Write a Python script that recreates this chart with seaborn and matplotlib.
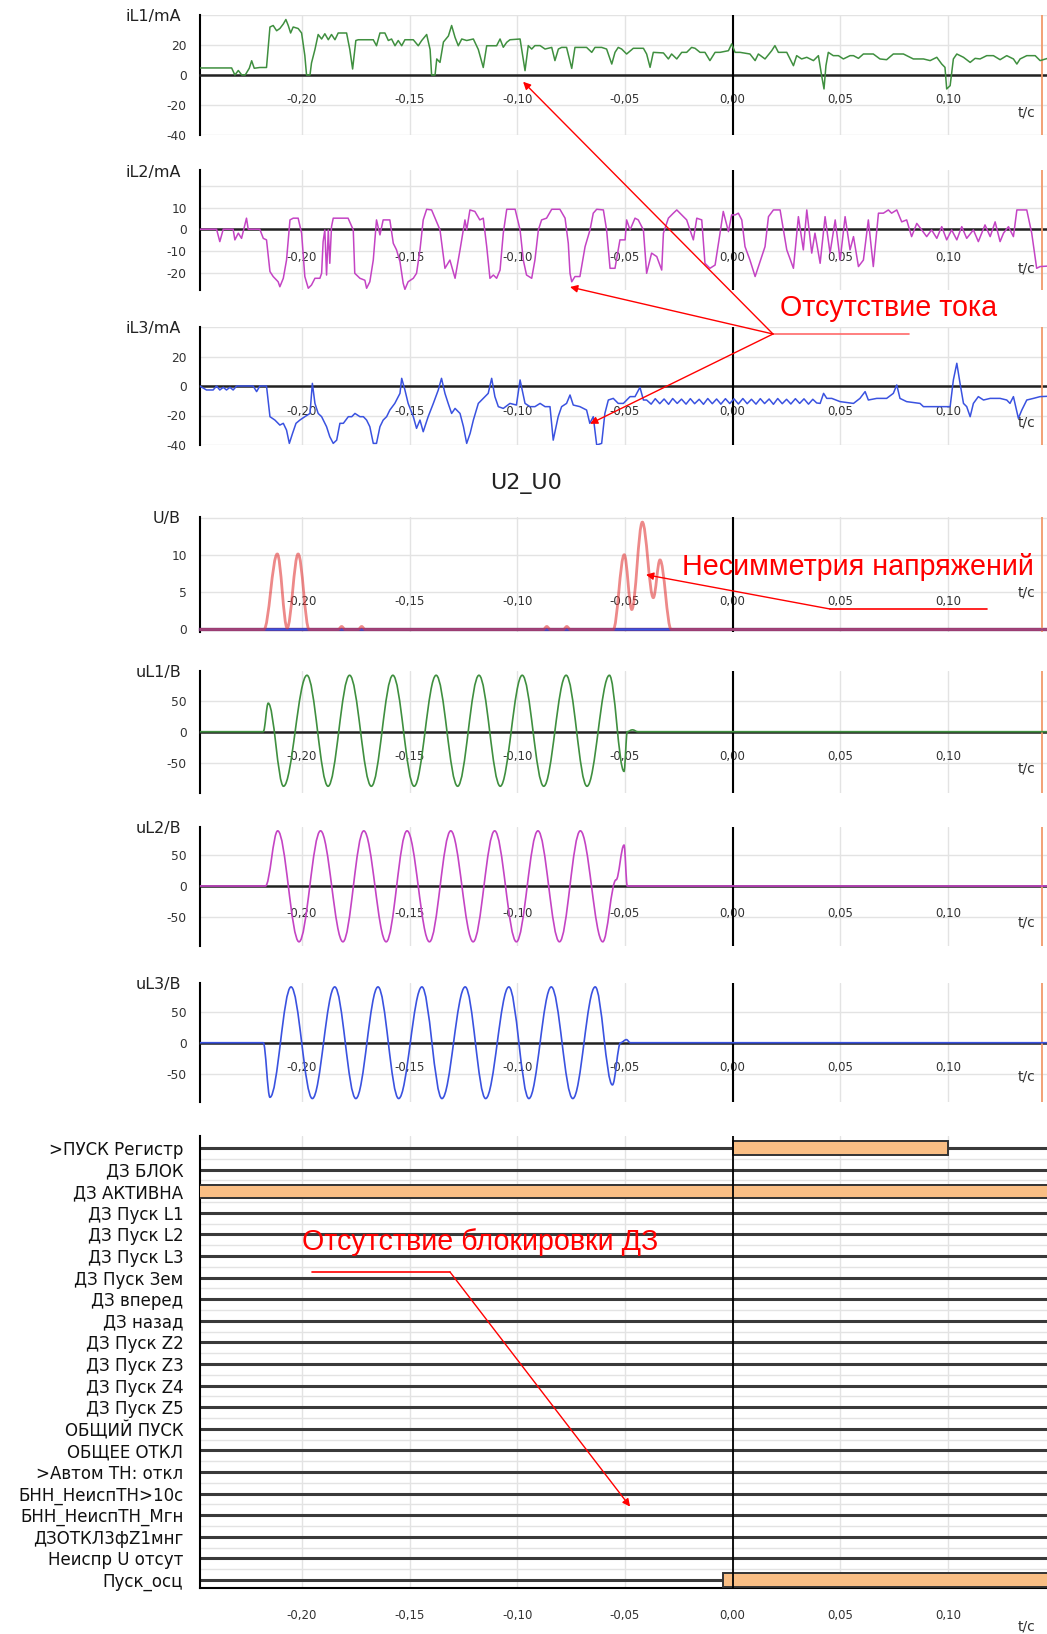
import numpy as np
import matplotlib
matplotlib.use("Agg")
import matplotlib.pyplot as plt
import seaborn as sns
from matplotlib.path import Path
from matplotlib.patches import PathPatch, ConnectionPatch
from matplotlib.lines import Line2D
from matplotlib.transforms import blended_transform_factory

# ---------------------------------------------------------------- data
# Time values are in milliseconds, amplitudes in the units of each channel.
IL1 = [
    (-247.5, 4.7), (-232.7, 4.7), (-231.2, 0.0), (-229.6, 3.0), (-228.0, 0.0), (-226.4, 0.0),
    (-224.5, 4.5), (-223.4, 9.5), (-222.2, 4.5), (-219.6, 5.0), (-216.5, 5.0),
    (-214.9, 32.0), (-213.4, 33.0), (-211.8, 29.5), (-210.3, 31.0), (-208.7, 34.0), (-207.5, 37.0),
    (-206.4, 33.0), (-205.3, 28.0), (-204.1, 32.0), (-201.8, 31.0), (-200.2, 28.0), (-198.7, 13.0),
    (-197.9, 0.0), (-196.3, 0.0), (-195.6, 8.0), (-194.0, 17.0), (-192.5, 27.0), (-190.9, 24.0),
    (-189.4, 27.5), (-187.8, 23.5), (-186.3, 27.0), (-184.7, 23.5), (-183.2, 28.0), (-179.3, 28.0),
    (-177.8, 17.0), (-176.5, 4.0), (-175.0, 23.0), (-173.9, 23.5), (-166.9, 23.5), (-165.4, 19.5),
    (-163.8, 28.0), (-161.5, 28.0), (-159.9, 23.0), (-158.4, 24.0), (-156.8, 19.5), (-155.3, 23.0),
    (-153.7, 19.5), (-152.2, 23.5), (-148.3, 23.5), (-146.0, 19.5), (-144.4, 23.0), (-142.1, 27.0),
    (-140.5, 17.0), (-139.8, 0.0), (-138.2, 0.0), (-137.4, 10.7), (-135.9, 8.4), (-134.3, 22.0),
    (-132.0, 26.0), (-130.5, 33.0), (-128.9, 25.0), (-127.4, 19.5), (-125.8, 24.0), (-123.5, 23.0),
    (-120.4, 24.0), (-118.1, 17.0), (-115.8, 5.0), (-114.2, 19.5), (-112.7, 19.5), (-109.6, 19.5),
    (-108.0, 24.0), (-106.5, 18.5), (-104.9, 21.8), (-103.4, 23.5), (-98.7, 24.0),
    (-96.4, 2.9), (-94.9, 19.6), (-93.3, 17.3), (-91.8, 19.6), (-89.4, 19.6), (-87.1, 17.3),
    (-84.0, 18.4), (-82.5, 9.6), (-80.9, 17.3), (-79.4, 18.4), (-77.1, 18.4), (-74.7, 4.4),
    (-73.2, 18.4), (-70.9, 18.4), (-67.8, 18.4), (-65.4, 15.1), (-63.9, 18.4), (-60.8, 18.4),
    (-58.5, 17.3), (-56.1, 7.3), (-54.6, 15.1), (-53.1, 18.4), (-51.5, 17.3), (-49.2, 14.0),
    (-46.1, 17.8), (-41.4, 17.8), (-39.9, 14.0), (-38.3, 5.1), (-36.8, 15.1), (-32.1, 14.7),
    (-29.8, 10.7), (-28.3, 14.0), (-25.9, 10.7), (-23.6, 15.1), (-21.3, 15.1), (-19.0, 18.4),
    (-17.4, 17.8), (-15.1, 15.1), (-12.8, 15.1), (-10.5, 9.6), (-8.1, 15.1), (-5.8, 15.1),
    (-1.9, 16.2), (-0.4, 20.7), (1.2, 15.1), (3.5, 15.1), (8.1, 14.0), (10.5, 9.6), (12.0, 14.0),
    (15.1, 10.7), (18.2, 16.2), (19.7, 19.6), (21.3, 15.1), (25.2, 15.1), (28.3, 6.2), (29.8, 12.9),
    (32.1, 10.7), (34.5, 11.8), (37.6, 9.6), (39.9, 12.9), (41.4, -0.4), (42.5, -9.3), (43.4, 6.2),
    (44.5, 15.1), (46.8, 12.9), (49.2, 12.9), (51.5, 10.7), (54.6, 12.9), (56.2, 12.9), (58.5, 11.1),
    (60.8, 14.0), (65.4, 14.0), (68.5, 10.7), (71.6, 10.2), (74.7, 14.0), (79.4, 14.0), (84.0, 10.7),
    (88.7, 10.7), (91.8, 9.6), (94.9, 11.8), (97.2, 7.3), (98.7, 5.1), (99.5, -9.3), (101.1, -7.1),
    (102.6, 10.7), (104.2, 14.0), (107.3, 11.8), (110.4, 8.4), (112.7, 11.1), (115.0, 10.7),
    (118.1, 12.9), (121.2, 12.9), (124.3, 10.2), (127.4, 12.9), (130.5, 10.7), (132.1, 7.3),
    (133.6, 10.7), (136.7, 12.9), (140.6, 12.9), (142.9, 9.6), (146.2, 11.0),
]

IL2 = [
    (-247.5, 0.0), (-239.7, 0.0), (-238.2, -5.7), (-236.6, 0.0), (-232.0, 0.0), (-231.2, -4.9),
    (-229.6, -1.8), (-228.1, -4.2), (-225.8, 5.1), (-225.0, 0.0), (-219.6, 0.0), (-218.0, -4.2),
    (-216.5, -4.9), (-214.9, -19.5), (-213.4, -21.8), (-211.1, -24.2), (-210.3, -26.5), (-208.7, -22.6),
    (-207.2, -14.2), (-205.6, 4.3), (-204.1, 5.1), (-201.8, 5.1), (-200.2, -1.8), (-198.7, -21.8),
    (-197.1, -27.2), (-195.6, -25.7), (-194.0, -22.6), (-191.7, -22.6), (-190.9, -20.3), (-190.2, -5.7),
    (-189.4, -0.3), (-188.6, -21.1), (-187.8, -0.3), (-187.1, -15.7), (-186.3, 1.2), (-185.5, 5.1),
    (-178.6, 5.1), (-176.2, -0.3), (-175.5, -20.3), (-173.1, -22.6), (-170.8, -23.5), (-170.0, -27.2),
    (-168.5, -24.2), (-166.9, -14.2), (-165.4, 4.3), (-163.8, -2.6), (-162.3, 4.3), (-159.2, 4.3),
    (-157.6, -6.5), (-156.1, -9.5), (-154.5, -14.9), (-153.0, -24.9), (-152.2, -27.7), (-150.7, -24.2),
    (-148.3, -22.6), (-146.8, -20.3), (-145.2, -9.5), (-143.7, 4.3), (-142.1, 9.2), (-139.8, 8.9),
    (-138.2, 5.1), (-135.9, -0.3), (-133.6, -18.0), (-131.3, -14.2), (-128.9, -22.6), (-126.6, -9.5),
    (-124.3, 4.3), (-123.5, -0.3), (-122.0, 8.9), (-119.7, 8.2), (-117.4, 4.3), (-115.8, 5.1),
    (-114.2, -8.0), (-112.7, -22.6), (-111.1, -21.1), (-109.6, -22.6), (-108.0, -18.8), (-106.5, -1.8),
    (-104.9, 9.2), (-101.0, 9.2), (-98.7, -0.3), (-97.2, -14.2), (-95.7, -21.1), (-93.3, -22.6),
    (-91.8, -14.2), (-90.2, -0.3), (-88.7, 4.3), (-86.4, 5.1), (-84.0, 9.2), (-80.2, 9.2),
    (-77.8, 5.1), (-76.3, -6.5), (-75.5, -20.3), (-74.7, -24.2), (-73.2, -21.8), (-70.9, -21.8),
    (-68.5, -8.0), (-66.2, -0.3), (-64.7, 7.4), (-63.1, 9.2), (-60.0, 8.9), (-58.5, -0.3),
    (-56.9, -18.0), (-54.6, -18.0), (-52.3, -4.9), (-49.9, -4.9), (-49.2, 4.3), (-47.6, -0.3),
    (-45.3, 5.1), (-43.8, 4.3), (-41.4, -0.3), (-39.9, -20.3), (-37.6, -11.0), (-35.2, -12.6),
    (-32.9, -18.8), (-32.1, -1.8), (-29.8, 5.1), (-27.5, 7.4), (-25.9, 8.9), (-24.4, 7.4),
    (-21.3, 4.3), (-18.2, -4.9), (-16.6, 5.1), (-14.3, 4.3), (-12.8, -15.7), (-10.5, -18.0),
    (-8.1, -16.5), (-5.8, -1.8), (-4.3, 8.2), (-1.9, -1.1), (-0.4, 6.6), (1.2, 6.6), (2.7, 7.4),
    (4.3, 4.3), (5.8, -8.0), (8.1, -14.2), (10.5, -21.8), (12.8, -14.9), (15.1, -8.0), (16.7, 5.8),
    (19.0, 8.9), (22.1, 8.9), (25.2, -9.5), (28.3, -18.0), (30.6, 5.8), (32.9, -9.5), (34.5, 8.9),
    (36.8, -11.0), (38.3, -1.8), (40.7, -15.7), (43.0, 5.8), (45.3, -11.0), (47.7, 4.3),
    (50.0, -14.2), (52.3, 5.8), (54.6, -9.5), (56.2, -3.4), (58.5, -17.2), (60.8, -14.2),
    (63.1, 4.3), (65.4, -17.2), (67.8, 7.4), (70.1, 7.4), (72.4, 8.9), (73.9, 7.4), (76.3, 8.9),
    (78.6, 3.4), (80.9, 4.3), (83.2, -3.4), (85.6, 2.7), (87.9, -0.3), (90.2, -3.4), (92.5, -0.3),
    (94.9, -4.2), (97.2, 1.2), (99.5, -4.9), (101.8, -0.3), (104.2, -4.9), (106.5, 1.2),
    (108.8, -4.2), (111.9, -0.3), (114.2, -5.7), (117.3, 2.0), (119.7, -3.4), (122.0, 3.4),
    (124.3, -5.7), (125.9, -1.8), (128.2, 1.2), (130.5, -3.4), (132.1, 8.9), (136.7, 8.9),
    (139.0, -1.8), (141.3, -18.0), (142.9, -17.2), (146.2, -17.0),
]

IL3 = [
    (-247.5, 0.0), (-244.4, -2.7), (-241.3, -2.7), (-239.7, 0.0), (-238.2, -2.7), (-236.6, -0.9),
    (-235.1, -2.7), (-233.5, -0.9), (-232.0, -2.7), (-230.4, 0.0), (-222.7, 0.0), (-221.1, -3.8),
    (-219.6, 0.0), (-216.5, 0.0), (-214.9, -20.8), (-212.6, -23.1), (-210.3, -26.5), (-208.7, -25.3),
    (-207.2, -29.9), (-205.9, -38.9), (-204.4, -32.1), (-202.8, -25.3), (-201.0, -23.1),
    (-198.7, -20.8), (-196.3, -18.6), (-195.2, 1.8), (-194.0, -11.8), (-192.5, -18.6),
    (-190.9, -20.8), (-188.6, -27.6), (-187.1, -34.4), (-185.5, -38.9), (-183.9, -36.7),
    (-182.4, -25.3), (-180.8, -25.3), (-178.5, -20.8), (-176.9, -20.8), (-175.4, -18.6),
    (-173.1, -20.8), (-171.5, -20.8), (-170.0, -23.1), (-168.5, -27.6), (-166.9, -38.9),
    (-165.4, -38.9), (-163.8, -27.6), (-162.3, -23.1), (-160.7, -20.8), (-159.2, -16.3),
    (-156.9, -11.8), (-154.5, -5.0), (-153.7, 5.2), (-152.2, -2.7), (-150.7, -11.8), (-148.3, -20.8),
    (-146.8, -28.7), (-145.2, -23.1), (-143.7, -31.0), (-141.4, -20.8), (-139.0, -11.8),
    (-136.7, -2.7), (-135.2, 5.2), (-133.6, -5.0), (-132.1, -11.8), (-130.5, -18.6), (-128.9, -15.2),
    (-126.6, -18.6), (-125.0, -27.6), (-123.5, -38.9), (-121.9, -32.1), (-120.4, -23.1),
    (-118.1, -11.8), (-115.8, -8.4), (-113.5, -5.0), (-111.9, 5.2), (-110.4, -7.2), (-108.8, -14.0),
    (-106.5, -15.2), (-103.4, -11.8), (-100.4, -12.9), (-98.7, 4.1), (-96.4, -11.8), (-94.1, -14.0),
    (-91.8, -14.0), (-89.4, -11.8), (-87.1, -14.0), (-84.8, -14.0), (-83.3, -36.7), (-81.0, -20.8),
    (-79.4, -14.0), (-77.1, -11.8), (-75.5, -6.1), (-74.0, -12.9), (-70.9, -14.0), (-67.8, -16.3),
    (-66.3, -25.3), (-64.7, -20.8), (-63.1, -40.0), (-60.8, -38.9), (-59.3, -18.6), (-57.7, -9.5),
    (-55.4, -8.4), (-53.1, -11.8), (-50.7, -11.8), (-47.6, -7.2), (-45.3, -7.2), (-43.0, -0.9),
    (-41.4, -9.5), (-39.9, -9.5), (-37.8, -12.3), (-35.9, -8.6), (-33.8, -12.0), (-31.8, -8.8),
    (-29.7, -12.4), (-27.8, -8.5), (-25.7, -11.8), (-23.7, -8.9), (-21.6, -12.3), (-19.6, -8.6),
    (-17.6, -12.0), (-15.5, -9.0), (-13.5, -12.4), (-11.5, -8.5), (-9.4, -12.0), (-7.4, -8.8),
    (-5.4, -12.3), (-3.3, -8.6), (-1.3, -11.9), (0.7, -8.7), (2.7, -12.2), (4.8, -8.5), (6.8, -12.0),
    (8.8, -9.0), (10.9, -12.3), (12.9, -8.6), (14.9, -11.9), (17.0, -8.8), (19.0, -12.4),
    (21.0, -8.5), (23.1, -12.0), (25.1, -9.0), (27.1, -12.2), (29.2, -8.6), (31.2, -11.8),
    (33.2, -8.7), (35.3, -12.3), (37.3, -9.0), (39.1, -11.5), (40.7, -11.8), (42.3, -5.0),
    (43.8, -8.4), (46.1, -8.4), (50.0, -10.6), (56.2, -11.8), (59.2, -8.4), (61.6, -3.8),
    (63.1, -9.5), (67.0, -8.4), (71.6, -8.4), (74.7, -5.0), (76.3, 0.7), (77.8, -8.4),
    (80.9, -10.6), (87.1, -11.8), (88.7, -14.0), (101.1, -14.0), (102.6, 4.1), (104.2, 15.4),
    (105.7, 1.8), (107.3, -11.8), (108.8, -14.0), (110.4, -20.8), (111.9, -11.8), (114.2, -7.2),
    (116.6, -9.5), (119.7, -8.4), (124.3, -8.4), (127.4, -9.5), (128.9, -11.8), (130.5, -7.2),
    (132.8, -21.9), (134.4, -16.3), (136.7, -9.5), (139.8, -8.4), (142.9, -7.2), (146.2, -7.0),
]

# Negative-sequence voltage (U2) and zero-sequence voltage (U0): extrema of each half-wave
U2 = [
    (-247.5, 0.0), (-217.7, 0.0), (-211.5, 10.2), (-206.9, 0.2), (-201.8, 10.2), (-196.7, 0.0),
    (-183.2, 0.0), (-181.6, 0.4), (-180.0, 0.0), (-173.9, 0.0), (-172.3, 0.4), (-170.7, 0.0),
    (-87.9, 0.0), (-86.3, 0.4), (-84.7, 0.0), (-78.6, 0.0), (-77.0, 0.4), (-75.4, 0.0),
    (-55.4, 0.0), (-50.3, 10.1), (-46.8, 2.7), (-41.9, 14.5), (-36.8, 4.3), (-33.7, 9.4),
    (-28.5, 0.0), (146.2, 0.0),
]
U0 = [(-247.5, 0.0), (146.2, 0.0)]

# Phase voltages: successive peaks / troughs of the 50 Hz waveform
UL1 = [
    (-247.5, 0), (-218.0, 0), (-215.7, 46), (-208.6, -88), (-197.7, 91), (-187.9, -88),
    (-177.9, 91), (-167.8, -88), (-157.8, 91), (-147.9, -88), (-137.7, 91), (-127.7, -88),
    (-117.8, 91), (-107.9, -88), (-97.7, 91), (-87.7, -88), (-77.3, 91), (-67.6, -88),
    (-57.2, 91), (-50.4, -64), (-48.9, 0), (-46.5, 3), (-44.0, 0), (146.2, 0),
]
UL2 = [
    (-247.5, 0), (-217.0, 0), (-211.3, 89), (-201.4, -90), (-191.4, 89), (-181.0, -90),
    (-171.3, 89), (-160.9, -90), (-151.2, 89), (-140.8, -90), (-130.9, 89), (-120.5, -90),
    (-110.5, 89), (-100.4, -90), (-90.4, 89), (-80.4, -90), (-70.7, 89), (-60.3, -90),
    (-54.1, 10), (-50.4, 66), (-48.9, 0), (146.2, 0),
]
UL3 = [
    (-247.5, 0), (-218.0, 0), (-214.9, -88), (-205.1, 90), (-195.2, -90), (-184.8, 90),
    (-175.0, -90), (-164.7, 90), (-155.1, -90), (-144.3, 90), (-135.0, -90), (-124.2, 90),
    (-114.7, -90), (-103.9, 90), (-94.6, -90), (-84.2, 90), (-74.2, -90), (-63.8, 90),
    (-55.8, -68), (-52.0, 0), (-49.3, 5), (-47.5, 0), (146.2, 0),
]

# Discrete signals and their active intervals (seconds)
DIG_LABELS = [
    ">ПУСК Регистр", "ДЗ БЛОК", "ДЗ АКТИВНА", "ДЗ Пуск L1", "ДЗ Пуск L2", "ДЗ Пуск L3",
    "ДЗ Пуск Зем", "ДЗ вперед", "ДЗ назад", "ДЗ Пуск Z2", "ДЗ Пуск Z3", "ДЗ Пуск Z4",
    "ДЗ Пуск Z5", "ОБЩИЙ ПУСК", "ОБЩЕЕ ОТКЛ", ">Автом ТН: откл", "БНН_НеиспТН>10с",
    "БНН_НеиспТН_Мгн", "ДЗОТКЛ3фZ1мнг", "Неиспр U отсут", "Пуск_осц",
]
DIG_ON = [(">ПУСК Регистр", 0.000, 0.100), ("ДЗ АКТИВНА", -0.260, 0.160), ("Пуск_осц", -0.0043, 0.160)]

XTICKS = [-0.20, -0.15, -0.10, -0.05, 0.00, 0.05, 0.10]
CURSOR_T = 0.1438

# ---------------------------------------------------------------- style
sns.set_theme(style="white")
plt.rcParams["font.family"] = ["DejaVu Sans"]
ANN_FONT = ["Liberation Sans", "DejaVu Sans"]
ANN_SIZE = 20.6

GREEN, MAGENTA, BLUE, RED = "#3f8f3f", "#c444c4", "#3a52e0", "#e23a3a"
ORANGE_FILL, CURSOR = "#f9be84", "#f29a6a"
GRID = "#e3e3e3"
T_MIN, T_MAX = -0.2474, 0.1461

W, H = 1047, 1634
fig = plt.figure(figsize=(W / 100, H / 100), dpi=100, facecolor="white")


def fx(x):
    return x / W


def fy(y):
    return 1 - y / H


def add_panel(top, bottom):
    ax = fig.add_axes([fx(200), fy(bottom), fx(W - 200), (bottom - top) / H])
    ax.set_facecolor("none")
    ax.set_xlim(T_MIN, T_MAX)
    return ax


def tick_text(t):
    return f"{t:.2f}".replace(".", ",")


def style_analog(ax, ylim, yticks, ylabels, unit, label_y, tc_y):
    ax.set_ylim(*ylim)
    for s in ("top", "right"):
        ax.spines[s].set_visible(False)
    ax.spines["left"].set_color("black")
    ax.spines["left"].set_linewidth(1.5)
    ax.spines["bottom"].set_position(("data", 0))
    ax.spines["bottom"].set_color("#222222")
    ax.spines["bottom"].set_linewidth(1.8)
    ax.set_xticks(XTICKS)
    ax.set_yticks(yticks)
    ax.set_yticklabels(ylabels)
    ax.tick_params(axis="x", direction="inout", length=13, width=1.5, color="#222222",
                   labelbottom=False)
    ax.tick_params(axis="y", direction="out", length=6.5, width=1.3, color="black", pad=3,
                   labelsize=8.8, labelcolor="#333333")
    ax.grid(True, color=GRID, lw=1.0)
    ax.set_axisbelow(True)
    ax.axvline(0, color="black", lw=1.5, zorder=2.8)
    ax.axvline(CURSOR_T, color=CURSOR, lw=1.3, zorder=2.8)
    tr = blended_transform_factory(ax.transData, fig.transFigure)
    for t in XTICKS:
        ax.text(t, fy(label_y), tick_text(t), transform=tr, ha="center", va="center",
                fontsize=8.5, color="#333333", zorder=1)
    fig.text(fx(1026), fy(tc_y), "t/c", ha="center", va="center", fontsize=10, color="#333333")
    pos = ax.get_position()
    fig.text(fx(181), pos.y1 - 2 / H, unit, ha="right", va="center", fontsize=11.5,
             color="#222222")


def draw_trace(ax, pts, color, lw=1.1):
    arr = np.array(pts, dtype=float)
    sns.lineplot(x=arr[:, 0] / 1000, y=arr[:, 1], ax=ax, color=color, lw=lw,
                 estimator=None, sort=False, zorder=3)


def draw_wave(ax, pts, color, lw=1.2, alpha=1.0, zorder=3):
    """Join successive extrema with cubic Bezier half-waves (flat tangents at the extrema)."""
    arr = np.array(pts, dtype=float)
    t, v = arr[:, 0] / 1000, arr[:, 1]
    k = 0.3634
    verts, codes = [(t[0], v[0])], [Path.MOVETO]
    for i in range(len(t) - 1):
        dt = t[i + 1] - t[i]
        verts += [(t[i] + k * dt, v[i]), (t[i + 1] - k * dt, v[i + 1]), (t[i + 1], v[i + 1])]
        codes += [Path.CURVE4] * 3
    ax.add_patch(PathPatch(Path(verts, codes), fill=False, edgecolor=color, lw=lw,
                           alpha=alpha, zorder=zorder))


# ---------------------------------------------------------------- currents
ax_i1 = add_panel(15, 135)
style_analog(ax_i1, (-40, 40), [-40, -20, 0, 20, 40], ["-40", "-20", "0", "20", ""],
             "iL1/mA", 100, 112)
draw_trace(ax_i1, IL1, GREEN)

ax_i2 = add_panel(170, 290)
style_analog(ax_i2, (-28, 27.3), [-20, -10, 0, 10, 20], ["-20", "-10", "0", "10", ""],
             "iL2/mA", 257, 268)
draw_trace(ax_i2, IL2, MAGENTA)

ax_i3 = add_panel(327, 445)
style_analog(ax_i3, (-40, 40), [-40, -20, 0, 20, 40], ["-40", "-20", "0", "20", ""],
             "iL3/mA", 412, 422)
draw_trace(ax_i3, IL3, BLUE)

# ---------------------------------------------------------------- U2 / U0
ax_u = add_panel(517, 632)
style_analog(ax_u, (-0.34, 15.2), [0, 5, 10, 15], ["0", "5", "10", ""], "U/B", 602, 593)
ax_u.spines["bottom"].set_color("#6a2a6a")
ax_u.spines["bottom"].set_linewidth(2.4)
draw_wave(ax_u, U0, BLUE, lw=1.6, zorder=3)
draw_wave(ax_u, U2, RED, lw=2.0, alpha=0.6, zorder=3.2)
fig.text(fx(526), fy(484), "U2_U0", ha="center", va="center", fontsize=16, color="#222222")

# ---------------------------------------------------------------- phase voltages
ax_v1 = add_panel(671, 793)
style_analog(ax_v1, (-98.9, 97.9), [-50, 0, 50], ["-50", "0", "50"], "uL1/B", 757, 769)
draw_wave(ax_v1, UL1, GREEN)

ax_v2 = add_panel(827, 946)
style_analog(ax_v2, (-96.8, 95.2), [-50, 0, 50], ["-50", "0", "50"], "uL2/B", 913, 923)
draw_wave(ax_v2, UL2, MAGENTA)

ax_v3 = add_panel(983, 1102)
style_analog(ax_v3, (-95.6, 96.3), [-50, 0, 50], ["-50", "0", "50"], "uL3/B", 1068, 1077)
draw_wave(ax_v3, UL3, BLUE)

# ---------------------------------------------------------------- discrete signals
ax_d = add_panel(1136, 1588)
n_rows = len(DIG_LABELS)
ax_d.set_ylim(20.37, -0.556)
for s in ("top", "right"):
    ax_d.spines[s].set_visible(False)
for s in ("left", "bottom"):
    ax_d.spines[s].set_color("black")
    ax_d.spines[s].set_linewidth(1.5)
ax_d.set_yticks(range(n_rows))
ax_d.set_yticklabels(DIG_LABELS)
ax_d.tick_params(axis="y", length=0, pad=12, labelsize=12, labelcolor="#111111")
ax_d.set_xticks(XTICKS)
ax_d.tick_params(axis="x", direction="out", length=6.5, width=1.3, color="black",
                 labelbottom=False)
ax_d.grid(True, axis="x", color=GRID, lw=1.0)
ax_d.set_axisbelow(True)
ax_d.hlines(np.arange(n_rows - 1) + 0.5, T_MIN, T_MAX, color=GRID, lw=1.0, zorder=1)
ax_d.hlines(np.arange(n_rows), T_MIN, T_MAX, color="#3a3a3a", lw=2.2, zorder=2)
for name, start, end in DIG_ON:
    row = DIG_LABELS.index(name)
    ax_d.barh(row, end - start, left=start, height=0.62, color=ORANGE_FILL,
              edgecolor="#333333", lw=1.4, zorder=3)
ax_d.axvline(0, color="black", lw=1.3, zorder=4)
tr_d = blended_transform_factory(ax_d.transData, fig.transFigure)
for t in XTICKS:
    ax_d.text(t, fy(1616), tick_text(t), transform=tr_d, ha="center", va="center",
              fontsize=8.5, color="#333333")
fig.text(fx(1026), fy(1627), "t/c", ha="center", va="center", fontsize=10, color="#333333")

# ---------------------------------------------------------------- annotations


def leader(x0, x1, y, color="red", lw=1.2):
    fig.add_artist(Line2D([fx(x0), fx(x1)], [fy(y), fy(y)], transform=fig.transFigure,
                          color=color, lw=lw, zorder=10))


def arrow(x0, y0, ax, t, v):
    cp = ConnectionPatch(xyA=(fx(x0), fy(y0)), coordsA="figure fraction",
                         xyB=(t, v), coordsB="data", axesB=ax,
                         arrowstyle="-|>", color="red", lw=1.0, mutation_scale=11,
                         shrinkA=0, shrinkB=0, zorder=10)
    fig.add_artist(cp)


fig.text(fx(780), fy(316), "Отсутствие тока", fontsize=ANN_SIZE, color="red", family=ANN_FONT,
         ha="left", va="baseline", zorder=10)
leader(773, 909, 334, color="#ff6a6a")
arrow(773, 334, ax_i1, -0.0973, -4.5)
arrow(773, 334, ax_i2, -0.0755, -26.6)
arrow(773, 334, ax_i3, -0.0662, -25.6)

fig.text(fx(682), fy(575), "Несимметрия напряжений", fontsize=ANN_SIZE, color="red",
         family=ANN_FONT, ha="left", va="baseline", zorder=10)
leader(830, 987, 609)
arrow(830, 609, ax_u, -0.0402, 7.4)

fig.text(fx(302), fy(1250), "Отсутствие блокировки ДЗ", fontsize=ANN_SIZE, color="red",
         family=ANN_FONT, ha="left", va="baseline", zorder=10)
leader(312, 450, 1272)
arrow(450, 1272, ax_d, -0.0476, 16.6)

fig.savefig("out.png", dpi=100, facecolor="white")
